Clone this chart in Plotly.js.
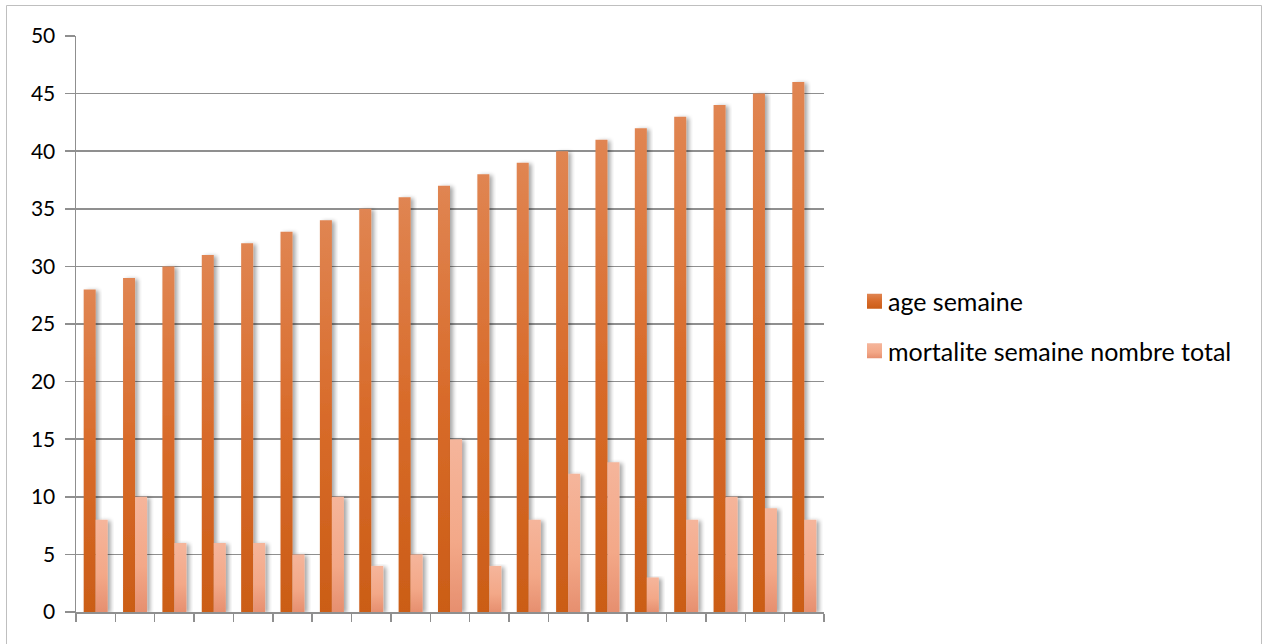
<!DOCTYPE html>
<html>
<head>
<meta charset="utf-8">
<script src="https://cdn.plot.ly/plotly-3.0.1.min.js"></script>
<style>
  html, body { margin: 0; padding: 0; background: #fff; }
  #chart { width: 1263px; height: 644px; }
</style>
</head>
<body>
<div id="chart"></div>
<script>
// Weekly flock record: age in weeks and total deaths counted that week
const weeks = ["1","2","3","4","5","6","7","8","9","10","11","12","13","14","15","16","17","18","19"];
const ageSemaine = [28, 29, 30, 31, 32, 33, 34, 35, 36, 37, 38, 39, 40, 41, 42, 43, 44, 45, 46];
const mortaliteSemaine = [8, 10, 6, 6, 6, 5, 10, 4, 5, 15, 4, 8, 12, 13, 3, 8, 10, 9, 8];
const seriesNames = ["age semaine", "mortalite semaine nombre total"];

const FONT = "Lato, 'Open Sans', sans-serif";
const GRID = "#8f8f8f";

const traces = [
  {
    type: "bar", name: seriesNames[0], x: weeks, y: ageSemaine,
    marker: { color: "#D6692A", line: { width: 0 } },
    legendgroup: "a", hoverinfo: "y"
  },
  {
    type: "bar", name: seriesNames[1], x: weeks, y: mortaliteSemaine,
    marker: { color: "#F2A98A", line: { width: 0 } },
    legendgroup: "b", hoverinfo: "y"
  }
];

// plot area in pixels: left 76, right 824, top 36, bottom 612
const L = 76, R = 824, T = 36, B = 612, W = 1263, H = 644;
const pw = R - L, ph = B - T;
const px = v => (v - L) / pw;
const py = v => (B - v) / ph;

const layout = {
  width: W, height: H,
  margin: { l: L, r: W - R, t: T, b: H - B, pad: 0 },
  paper_bgcolor: "#fff", plot_bgcolor: "#fff",
  font: { family: FONT, size: 21, color: "#000" },
  barmode: "group", bargap: 0.39, bargroupgap: 0,
  showlegend: true,
  legend: {
    x: px(848), xanchor: "left", y: py(326), yanchor: "middle",
    font: { family: FONT, size: 25, color: "#000" },
    traceorder: "grouped", tracegroupgap: 14,
    bgcolor: "rgba(0,0,0,0)", itemwidth: 30
  },
  xaxis: {
    type: "category", tickson: "boundaries",
    showticklabels: false, ticks: "outside", ticklen: 8, tickwidth: 1.5, tickcolor: GRID,
    showgrid: false, showline: true, linecolor: GRID, linewidth: 1.5,
    zeroline: false, fixedrange: true
  },
  yaxis: {
    range: [0, 50], tickvals: [0, 5, 10, 15, 20, 25, 30, 35, 40, 45, 50],
    ticks: "outside", ticklen: 10, tickwidth: 1.5, tickcolor: GRID,
    ticklabelstandoff: 5,
    showgrid: true, gridcolor: GRID, gridwidth: 1.5,
    showline: true, linecolor: GRID, linewidth: 1.5,
    zeroline: false, tickfont: { family: FONT, size: 21, color: "#000" },
    fixedrange: true
  },
  shapes: [
    {
      type: "rect", xref: "paper", yref: "paper", layer: "below",
      x0: px(6.5), x1: px(1261.5), y0: py(652), y1: py(5.5),
      line: { color: "#bfbfbf", width: 1 }, fillcolor: "rgba(0,0,0,0)"
    }
  ]
};

Plotly.newPlot("chart", traces, layout, { staticPlot: true, displayModeBar: false }).then(gd => {
  // vertical shading and soft shadow on the bars
  const svg = gd.querySelector("svg.main-svg");
  const ns = "http://www.w3.org/2000/svg";
  const defs = svg.querySelector("defs") || svg.insertBefore(document.createElementNS(ns, "defs"), svg.firstChild);
  const mkGrad = (id, stops) => {
    const g = document.createElementNS(ns, "linearGradient");
    g.setAttribute("id", id);
    g.setAttribute("x1", "0"); g.setAttribute("y1", "0");
    g.setAttribute("x2", "0"); g.setAttribute("y2", "1");
    stops.forEach(([o, c]) => {
      const s = document.createElementNS(ns, "stop");
      s.setAttribute("offset", o); s.setAttribute("stop-color", c);
      g.appendChild(s);
    });
    defs.appendChild(g);
  };
  mkGrad("gradAge", [["0", "#E08552"], ["0.5", "#D86B2A"], ["1", "#CB5D17"]]);
  mkGrad("gradMort", [["0", "#F5B59B"], ["0.6", "#F3A888"], ["1", "#E68F6F"]]);
  const f = document.createElementNS(ns, "filter");
  f.setAttribute("id", "barShadow");
  f.setAttribute("x", "-50%"); f.setAttribute("y", "-5%");
  f.setAttribute("width", "200%"); f.setAttribute("height", "110%");
  f.innerHTML = '<feGaussianBlur in="SourceAlpha" stdDeviation="2.2"/>' +
    '<feOffset dx="3" dy="1" result="b"/>' +
    '<feComponentTransfer><feFuncA type="linear" slope="0.35"/></feComponentTransfer>' +
    '<feMerge><feMergeNode/><feMergeNode in="SourceGraphic"/></feMerge>';
  defs.appendChild(f);
  const ids = ["gradAge", "gradMort"];
  gd.querySelectorAll(".barlayer .trace").forEach((tg, i) => {
    tg.querySelectorAll("path").forEach(p => {
      p.style.fill = "url(#" + ids[i] + ")";
      p.setAttribute("filter", "url(#barShadow)");
    });
  });
  // larger legend swatches, placed closer to their labels
  gd.querySelectorAll(".legend .traces").forEach((tr, i) => {
    tr.querySelectorAll(".legendpoints path").forEach(p => {
      p.setAttribute("d", "M14,7.5H-1V-7.5H14Z");
      p.style.fill = "url(#" + ids[i] + ")";
      p.style.stroke = "none";
    });
  });
});
</script>
</body>
</html>
